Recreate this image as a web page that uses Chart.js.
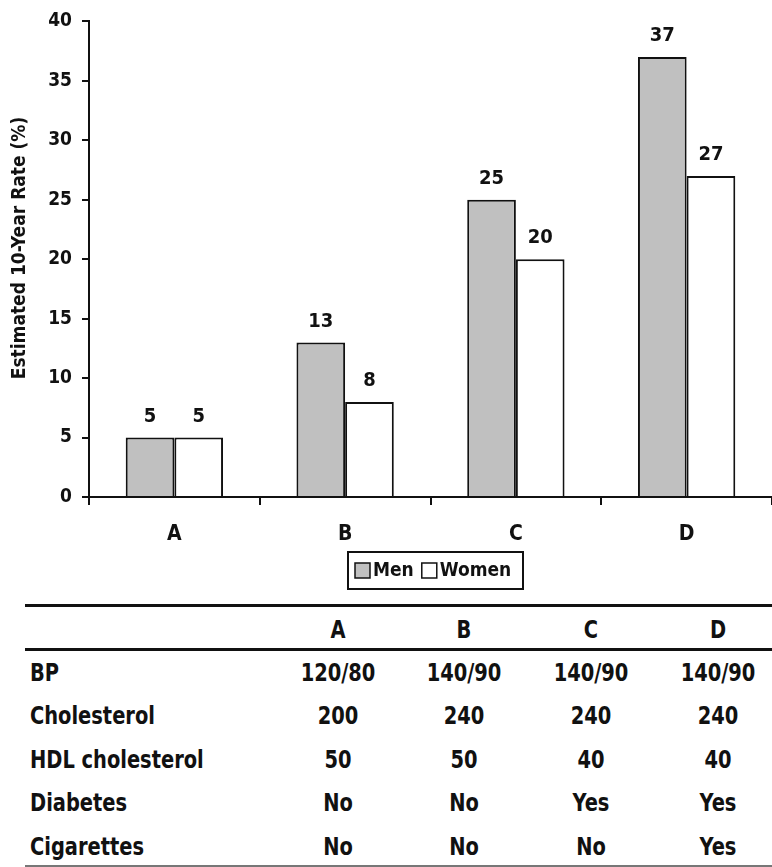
<!DOCTYPE html>
<html>
<head>
<meta charset="utf-8">
<script src="https://cdn.jsdelivr.net/npm/chart.js@4/dist/chart.umd.min.js"></script>
<style>
  html, body { margin: 0; padding: 0; background: #fff; }
  body { width: 772px; height: 867px; position: relative; overflow: hidden;
         font-family: "Liberation Sans Narrow", "DejaVu Sans Condensed", Arial, sans-serif;
         font-weight: bold; color: #111; }
  #wrap { position: absolute; left: 0; top: 0; width: 772px; height: 600px; }
  .rule { position: absolute; left: 25px; right: 0; background: #111; }
  .cell { position: absolute; font-size: 24px; line-height: 28px; white-space: nowrap;
          transform: scaleX(0.9); transform-origin: left center; }
  .val { transform: translateX(-50%) scaleX(0.9); transform-origin: center center; }
</style>
</head>
<body>
<div id="wrap"><canvas id="chart" width="772" height="600"></canvas></div>
<div id="table"></div>
<script>
// chart data
const categories = ['A', 'B', 'C', 'D'];
const menRates = [5, 13, 25, 37];
const womenRates = [5, 8, 20, 27];
const yTicks = [0, 5, 10, 15, 20, 25, 30, 35, 40];
const yTitle = 'Estimated 10-Year Rate (%)';

// risk factor table
const columnHeads = ['A', 'B', 'C', 'D'];
const rowLabels = ['BP', 'Cholesterol', 'HDL cholesterol', 'Diabetes', 'Cigarettes'];
const bpValues = ['120/80', '140/90', '140/90', '140/90'];
const cholesterolValues = ['200', '240', '240', '240'];
const hdlValues = ['50', '50', '40', '40'];
const diabetesValues = ['No', 'No', 'Yes', 'Yes'];
const cigaretteValues = ['No', 'No', 'No', 'Yes'];

const FONT = '"Liberation Sans Narrow", "DejaVu Sans Condensed", Arial, sans-serif';
const INK = '#111111';

// value labels above bars
const barLabels = {
  id: 'barLabels',
  afterDatasetsDraw(chart) {
    const ctx = chart.ctx;
    ctx.save();
    ctx.font = 'bold 20px ' + FONT;
    ctx.fillStyle = INK;
    ctx.textAlign = 'center';
    ctx.textBaseline = 'bottom';
    chart.data.datasets.forEach((ds, i) => {
      chart.getDatasetMeta(i).data.forEach((bar, j) => {
        ctx.fillText(String(ds.data[j]), bar.x, bar.y - 11);
      });
    });
    ctx.restore();
  }
};

// rotated y axis title, boxed legend under the axis
const extras = {
  id: 'extras',
  afterDraw(chart) {
    const ctx = chart.ctx;
    ctx.save();
    ctx.translate(20, 248);
    ctx.rotate(-Math.PI / 2);
    ctx.font = 'bold 19px ' + FONT;
    ctx.fillStyle = INK;
    ctx.textAlign = 'center';
    ctx.textBaseline = 'middle';
    ctx.fillText(yTitle, 0, 0);
    ctx.restore();

    const left = 348, top = 552, w = 175, h = 37;
    ctx.save();
    ctx.lineWidth = 2;
    ctx.strokeStyle = INK;
    ctx.strokeRect(left, top, w, h);
    ctx.font = 'bold 19px ' + FONT;
    ctx.textBaseline = 'middle';
    let x = left + 7;
    chart.data.datasets.forEach((ds) => {
      ctx.fillStyle = ds.backgroundColor;
      ctx.fillRect(x, top + 11, 15, 15);
      ctx.lineWidth = 1.5;
      ctx.strokeRect(x, top + 11, 15, 15);
      ctx.fillStyle = INK;
      ctx.textAlign = 'left';
      ctx.fillText(ds.label, x + 18, top + h / 2 + 1);
      x += 18 + ctx.measureText(ds.label).width + 8;
    });
    ctx.restore();
  }
};

new Chart(document.getElementById('chart'), {
  type: 'bar',
  data: {
    labels: categories,
    datasets: [
      { label: 'Men', data: menRates, backgroundColor: '#c0c0c0', borderColor: INK, borderWidth: 2 },
      { label: 'Women', data: womenRates, backgroundColor: '#ffffff', borderColor: INK, borderWidth: 2 }
    ]
  },
  options: {
    responsive: false,
    animation: false,
    devicePixelRatio: 1,
    layout: { padding: { top: 16, right: 0, bottom: 0, left: 0 } },
    categoryPercentage: 0.57,
    barPercentage: 1.0,
    plugins: { legend: { display: false }, tooltip: { enabled: false } },
    scales: {
      x: {
        afterFit(scale) { scale.height = 103; },
        border: { color: INK, width: 2 },
        grid: { drawOnChartArea: false, drawTicks: true, tickLength: 8, color: INK, lineWidth: 2, offset: true },
        ticks: { color: INK, font: { family: FONT, size: 21, weight: 'bold' }, padding: 17 }
      },
      y: {
        min: 0, max: 40,
        afterFit(scale) { scale.width = 89; },
        afterBuildTicks(scale) { scale.ticks = yTicks.map(v => ({ value: v })); },
        border: { color: INK, width: 2 },
        grid: { drawOnChartArea: false, drawTicks: true, tickLength: 7, color: INK, lineWidth: 2 },
        ticks: { color: INK, font: { family: FONT, size: 19, weight: 'bold' }, padding: 10 }
      }
    }
  },
  plugins: [barLabels, extras]
});

// table below the chart
const colCenters = [338, 464, 591, 718];
const rowCenters = [673, 716, 760, 803, 847];
const table = document.getElementById('table');
function addRule(top, h, color) {
  const d = document.createElement('div');
  d.className = 'rule';
  d.style.top = top + 'px';
  d.style.height = h + 'px';
  if (color) d.style.background = color;
  table.appendChild(d);
}
function addCell(text, x, cy, centered) {
  const d = document.createElement('div');
  d.className = 'cell' + (centered ? ' val' : '');
  d.textContent = text;
  d.style.left = x + 'px';
  d.style.top = (cy - 14) + 'px';
  table.appendChild(d);
}
addRule(604, 3);
addRule(648, 3);
addRule(865, 2, '#777');
columnHeads.forEach((h, i) => addCell(h, colCenters[i], 630, true));
const rows = [bpValues, cholesterolValues, hdlValues, diabetesValues, cigaretteValues];
rowLabels.forEach((label, r) => {
  addCell(label, 30, rowCenters[r], false);
  rows[r].forEach((v, i) => addCell(v, colCenters[i], rowCenters[r], true));
});
</script>
</body>
</html>
